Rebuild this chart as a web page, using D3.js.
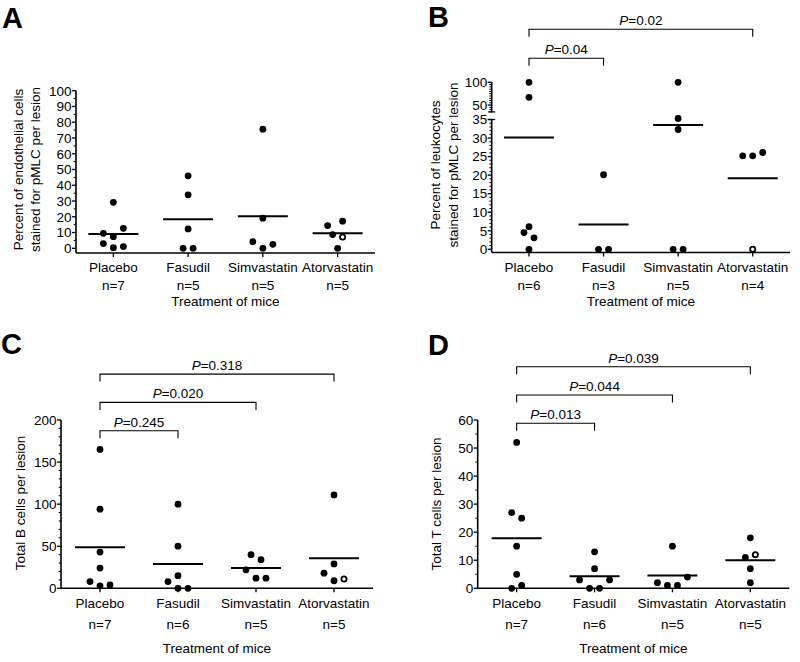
<!DOCTYPE html>
<html><head><meta charset="utf-8">
<script src="https://cdn.jsdelivr.net/npm/d3@7"></script>
<style>
body{margin:0;background:#fff}
svg{display:block}
text{font-family:"Liberation Sans",Arial,Helvetica,sans-serif;fill:#000}
</style>
</head><body>
<svg id="chart" width="800" height="662"></svg>
<script>
// ---------- DATA ----------
const categories = ["Placebo", "Fasudil", "Simvastatin", "Atorvastatin"];

// Panel A: percent of endothelial cells stained for pMLC per lesion
const endothelialValues = [
  [29.2, 9.5, 7.4, 12.7, 3.0, 0.4, 1.1],
  [46.0, 33.9, 12.3, 0, 0],
  [75.6, 19.1, 4.2, 0, 2.5],
  [14.4, 17.2, 8.7, 7.2, 0]
];
const endothelialDodge = [[0, -2, 0, 2, -2, 0, 2], [0, 0, 0, -1, 1], [0, 0, -2, 0, 2], [-2, 1, -1, 1, 0]];
const endothelialOpen = [[], [], [], [3]];
const endothelialTicks = [0, 10, 20, 30, 40, 50, 60, 70, 80, 90, 100];

// Panel B: percent of leukocytes stained for pMLC per lesion (broken axis)
const leukocyteValues = [
  [100, 67, 6.1, 4.5, 3.1, 0],
  [20.1, 0, 0],
  [100, 35.3, 32.3, 0, 0],
  [25.2, 25.2, 26.1, 0]
];
const leukocyteDodge = [[0, 0, 0, -1, 1, 0], [0, -1, 1], [0, 0, 0, -1, 1], [-2, 0, 2, 0]];
const leukocyteOpen = [[], [], [], [3]];
const leukocyteTicksLow = [0, 5, 10, 15, 20, 25, 30, 35];
const leukocyteTicksHigh = [50, 100];
const leukocyteP = [["Placebo", "Fasudil", "0.04"], ["Placebo", "Atorvastatin", "0.02"]];

// Panel C: total B cells per lesion
const bCellValues = [
  [165, 94, 43, 24, 8, 3, 4],
  [100, 50, 15, 8, 0, 0],
  [40, 34, 22, 12, 12],
  [111, 29, 18, 9, 11]
];
const bCellDodge = [[0, 0, 0, 0, -2, 0, 2], [0, 0, 0, -2, 0, 2], [-1, 1, -2, 0, 2], [0, 0, -2, 0, 2]];
const bCellOpen = [[], [], [], [4]];
const bCellTicks = [0, 50, 100, 150, 200];
const bCellP = [["Placebo", "Fasudil", "0.245"], ["Placebo", "Simvastatin", "0.020"], ["Placebo", "Atorvastatin", "0.318"]];

// Panel D: total T cells per lesion
const tCellValues = [
  [52, 27, 25, 15, 5, 0, 1],
  [13, 7, 3, 3, 0, 0],
  [15, 4, 2, 1, 1],
  [18, 11, 12, 7, 2]
];
const tCellDodge = [[0, -1, 1, 0, 0, -1, 1], [0, 0, -3, 3, -1, 1], [0, 3, -3, -1, 1], [0, -1, 1, 0, 0]];
const tCellOpen = [[], [], [], [2]];
const tCellTicks = [0, 10, 20, 30, 40, 50, 60];
const tCellP = [["Placebo", "Fasudil", "0.013"], ["Placebo", "Simvastatin", "0.044"], ["Placebo", "Atorvastatin", "0.039"]];

const xTitle = "Treatment of mice";

// ---------- DRAWING ----------
const svg = d3.select("#chart");
const FS = 13.5;
const DODGE = 5, R = 3.4, HALF = 25;

function drawPanel(c) {
  const g = svg.append("g");
  const x = d3.scalePoint().domain(categories).range([c.x0, c.x1]).padding(0.5);
  const yOf = v => {
    for (const s of c.segments) if (v >= s.from) return s.scale(v);
    return c.segments[c.segments.length - 1].scale(v);
  };

  // letter
  g.append("text").attr("x", c.letter[1]).attr("y", c.letter[2])
    .attr("font-size", 29).attr("font-weight", "bold").text(c.letter[0]);

  // x-axis
  g.append("line").attr("x1", c.x0).attr("x2", c.x1).attr("y1", c.axisY).attr("y2", c.axisY)
    .attr("stroke", "#000").attr("stroke-width", 1.6);
  categories.forEach((cat, i) => {
    g.append("line").attr("x1", x(cat)).attr("x2", x(cat)).attr("y1", c.axisY).attr("y2", c.axisY + 4)
      .attr("stroke", "#000").attr("stroke-width", 1.3);
    g.append("text").attr("x", x(cat)).attr("y", c.catY).attr("text-anchor", "middle")
      .attr("font-size", FS).text(cat);
    g.append("text").attr("x", x(cat)).attr("y", c.nY).attr("text-anchor", "middle")
      .attr("font-size", FS).text("n=" + c.values[i].length);
  });
  g.append("text").attr("x", (c.x0 + c.x1) / 2).attr("y", c.titleY).attr("text-anchor", "middle")
    .attr("font-size", FS).text(xTitle);

  // y-axis segments
  c.segments.forEach((s, si) => {
    const [d0, d1] = s.scale.domain();
    const top = s.scale(d1);
    const bottom = si === c.segments.length - 1 ? c.axisY : s.scale(d0);
    g.append("line").attr("x1", c.x0).attr("x2", c.x0).attr("y1", top).attr("y2", bottom)
      .attr("stroke", "#000").attr("stroke-width", 1.6);
    d3.range(d0, d1 + 1e-9, s.minor).forEach(v => {
      if (s.major.includes(v)) return;
      g.append("line").attr("x1", c.x0 - 2.3).attr("x2", c.x0).attr("y1", s.scale(v)).attr("y2", s.scale(v))
        .attr("stroke", "#000").attr("stroke-width", 1);
    });
    s.major.forEach(v => {
      g.append("line").attr("x1", c.x0 - 4).attr("x2", c.x0).attr("y1", s.scale(v)).attr("y2", s.scale(v))
        .attr("stroke", "#000").attr("stroke-width", 1.3);
      g.append("text").attr("x", c.x0 - 4.5).attr("y", s.scale(v) + 4.8).attr("text-anchor", "end")
        .attr("font-size", FS).text(v);
    });
    if (s.capTop) {
      g.append("line").attr("x1", c.x0 - 3.5).attr("x2", c.x0 + 3.5).attr("y1", top).attr("y2", top)
        .attr("stroke", "#000").attr("stroke-width", 1.3);
    }
    if (s.capBottom) {
      g.append("line").attr("x1", c.x0 - 3.5).attr("x2", c.x0 + 3.5).attr("y1", bottom).attr("y2", bottom)
        .attr("stroke", "#000").attr("stroke-width", 1.3);
    }
  });

  // y title
  c.yTitle.forEach(([txt, tx]) => {
    g.append("text").attr("transform", `translate(${tx},${c.yTitleC}) rotate(-90)`)
      .attr("text-anchor", "middle").attr("dy", "0.35em").attr("font-size", FS).text(txt);
  });

  // mean lines
  categories.forEach((cat, i) => {
    const m = d3.mean(c.values[i]);
    g.append("line").attr("x1", x(cat) - HALF).attr("x2", x(cat) + HALF)
      .attr("y1", yOf(m)).attr("y2", yOf(m)).attr("stroke", "#000").attr("stroke-width", 2);
  });

  // dots
  categories.forEach((cat, i) => {
    c.values[i].forEach((v, j) => {
      const open = c.open[i].includes(j);
      g.append("circle").attr("cx", x(cat) + c.dodge[i][j] * DODGE).attr("cy", yOf(v))
        .attr("r", open ? R - 0.8 : R)
        .attr("fill", open ? "#fff" : "#000")
        .attr("stroke", "#000").attr("stroke-width", open ? 1.8 : 0);
    });
  });

  // significance brackets
  (c.p || []).forEach(([a, b, p], k) => {
    const yb = c.bracketBase - k * c.bracketStep;
    const xa = x(a), xb = x(b);
    g.append("path").attr("d", `M${xa},${yb + 7.5}V${yb}H${xb}V${yb + 7.5}`)
      .attr("fill", "none").attr("stroke", "#000").attr("stroke-width", 1.1);
    const t = g.append("text").attr("x", (xa + xb) / 2).attr("y", yb - 4).attr("text-anchor", "middle")
      .attr("font-size", FS);
    t.append("tspan").attr("font-style", "italic").text("P");
    t.append("tspan").text("=" + p);
  });
}

// Panel A
drawPanel({
  letter: ["A", 2, 28],
  values: endothelialValues, dodge: endothelialDodge, open: endothelialOpen,
  x0: 76, x1: 375, axisY: 253,
  segments: [{from: -Infinity, scale: d3.scaleLinear().domain([0, 100]).range([248.3, 90.7]),
              major: endothelialTicks, minor: 5}],
  catY: 271.5, nY: 289.8, titleY: 305.5,
  yTitle: [["Percent of endothelial cells", 18.3], ["stained for pMLC per lesion", 35]], yTitleC: 169.5
});

// Panel B
drawPanel({
  letter: ["B", 428, 27],
  values: leukocyteValues, dodge: leukocyteDodge, open: leukocyteOpen,
  x0: 491.7, x1: 790, axisY: 252.5,
  segments: [
    {from: 40, scale: d3.scaleLinear().domain([35, 100]).range([111.9, 82.3]),
     major: leukocyteTicksHigh, minor: 5, capBottom: true},
    {from: -Infinity, scale: d3.scaleLinear().domain([0, 35]).range([249.3, 119.5]),
     major: leukocyteTicksLow, minor: 1, capTop: true}
  ],
  catY: 271.5, nY: 289.8, titleY: 305.5,
  yTitle: [["Percent of leukocytes", 435], ["stained for pMLC per lesion", 453.3]], yTitleC: 165,
  p: leukocyteP, bracketBase: 58.3, bracketStep: 29
});

// Panel C
drawPanel({
  letter: ["C", 1, 354],
  values: bCellValues, dodge: bCellDodge, open: bCellOpen,
  x0: 61, x1: 373, axisY: 588.3,
  segments: [{from: -Infinity, scale: d3.scaleLinear().domain([0, 200]).range([588.3, 420]),
              major: bCellTicks, minor: 10}],
  catY: 608, nY: 628.8, titleY: 652.5,
  yTitle: [["Total B cells per lesion", 20]], yTitleC: 503,
  p: bCellP, bracketBase: 430.7, bracketStep: 28.3
});

// Panel D
drawPanel({
  letter: ["D", 428, 355],
  values: tCellValues, dodge: tCellDodge, open: tCellOpen,
  x0: 477.7, x1: 789.3, axisY: 588.3,
  segments: [{from: -Infinity, scale: d3.scaleLinear().domain([0, 60]).range([588.3, 420]),
              major: tCellTicks, minor: 5}],
  catY: 608, nY: 628.8, titleY: 652.5,
  yTitle: [["Total T cells per lesion", 436]], yTitleC: 504,
  p: tCellP, bracketBase: 423.3, bracketStep: 28.3
});
</script>
</body></html>
